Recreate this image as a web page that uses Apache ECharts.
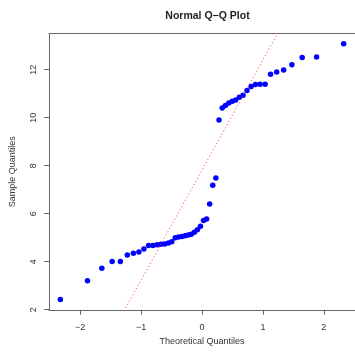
<!DOCTYPE html>
<html>
<head>
<meta charset="utf-8">
<script src="https://cdn.jsdelivr.net/npm/echarts@6/dist/echarts.min.js"></script>
<style>html,body{margin:0;padding:0;background:#fff}#c{width:355px;height:352px}</style>
</head>
<body>
<div id="c"></div>
<script>
const theoretical = [-2.3263, -1.8808, -1.6449, -1.4758, -1.3408, -1.2265, -1.1264, -1.0364, -0.9542, -0.8779,
  -0.8064, -0.7388, -0.6745, -0.6128, -0.5534, -0.4959, -0.4399, -0.3853, -0.3319, -0.2793,
  -0.2275, -0.1764, -0.1257, -0.0753, -0.0251, 0.0251, 0.0753, 0.1257, 0.1764, 0.2275,
  0.2793, 0.3319, 0.3853, 0.4399, 0.4959, 0.5534, 0.6128, 0.6745, 0.7388, 0.8064,
  0.8779, 0.9542, 1.0364, 1.1264, 1.2265, 1.3408, 1.4758, 1.6449, 1.8808, 2.3263];
const sample = [2.42, 3.20, 3.72, 4.01, 4.01, 4.28, 4.35, 4.40, 4.53, 4.67,
  4.67, 4.70, 4.72, 4.74, 4.78, 4.83, 5.00, 5.03, 5.05, 5.08,
  5.11, 5.14, 5.22, 5.33, 5.47, 5.71, 5.78, 6.40, 7.18, 7.49,
  9.90, 10.40, 10.51, 10.61, 10.68, 10.74, 10.85, 10.93, 11.13, 11.30,
  11.38, 11.39, 11.39, 11.81, 11.90, 11.99, 12.20, 12.51, 12.53, 13.08];
const xTicks = [-2, -1, 0, 1, 2];
const yTicks = [2, 4, 6, 8, 10, 12];

function quantile7(arr, p) {
  const s = arr.slice().sort((a, b) => a - b);
  const h = (s.length - 1) * p;
  const lo = Math.floor(h);
  return s[lo] + (h - lo) * ((s[lo + 1] ?? s[lo]) - s[lo]);
}
const xr = [Math.min(...theoretical), Math.max(...theoretical)];
const yr = [Math.min(...sample), Math.max(...sample)];
const xmin = xr[0] - 0.04 * (xr[1] - xr[0]), xmax = xr[1] + 0.04 * (xr[1] - xr[0]);
const ymin = yr[0] - 0.04 * (yr[1] - yr[0]), ymax = yr[1] + 0.04 * (yr[1] - yr[0]);
const q1 = quantile7(sample, 0.25), q3 = quantile7(sample, 0.75);
const z = 0.6745;
const slope = (q3 - q1) / (2 * z);
const intercept = q1 + z * slope;
const lineData = [[xmin, intercept + slope * xmin], [xmax, intercept + slope * xmax]];

const font = 'Liberation Sans, Arial, sans-serif';
const axisCol = '#666';
const chart = echarts.init(document.getElementById('c'), null, {renderer: 'canvas'});
chart.setOption({
  animation: false,
  backgroundColor: '#fff',
  title: {
    text: 'Normal Q\u2212Q Plot', left: 202.5, top: 6, textAlign: 'center',
    textStyle: {fontFamily: font, fontSize: 10.5, fontWeight: 'bold', color: '#222'}
  },
  grid: {left: 48.5, top: 33.5, width: 308, height: 276.3, show: false, containLabel: false},
  xAxis: [{
    type: 'value', min: xmin, max: xmax, position: 'bottom',
    name: 'Theoretical Quantiles', nameLocation: 'middle', nameGap: 25,
    nameTextStyle: {fontFamily: font, fontSize: 9, color: '#333'},
    axisLine: {show: true, onZero: false, lineStyle: {color: axisCol}},
    axisTick: {show: true, customValues: xTicks, length: 5, lineStyle: {color: axisCol}},
    axisLabel: {customValues: xTicks, fontFamily: font, fontSize: 9, color: '#333', margin: 13,
      formatter: v => (v < 0 ? '\u2212' + Math.abs(v) : String(v))},
    splitLine: {show: false}
  }, {
    type: 'value', min: xmin, max: xmax, position: 'top',
    axisLine: {show: true, onZero: false, lineStyle: {color: axisCol}},
    axisTick: {show: false}, axisLabel: {show: false}, splitLine: {show: false}
  }],
  yAxis: {
    type: 'value', min: ymin, max: ymax,
    name: 'Sample Quantiles', nameLocation: 'middle', nameGap: 32, nameRotate: 90,
    nameTextStyle: {fontFamily: font, fontSize: 9, color: '#333'},
    axisLine: {show: true, onZero: false, lineStyle: {color: axisCol}},
    axisTick: {show: true, customValues: yTicks, length: 5, lineStyle: {color: axisCol}},
    axisLabel: {customValues: yTicks, rotate: 90, fontFamily: font, fontSize: 9, color: '#333', margin: 11},
    splitLine: {show: false}
  },
  series: [
    {
      type: 'line', data: lineData, symbol: 'none', clip: true, silent: true,
      lineStyle: {color: '#f03030', width: 1, type: [1.2, 2.4], opacity: 0.8}
    },
    {
      type: 'scatter', data: theoretical.map((t, i) => [t, sample[i]]),
      symbol: 'circle', symbolSize: 5.5,
      itemStyle: {color: '#0000ff', opacity: 1}
    }
  ]
});
</script>
</body>
</html>
